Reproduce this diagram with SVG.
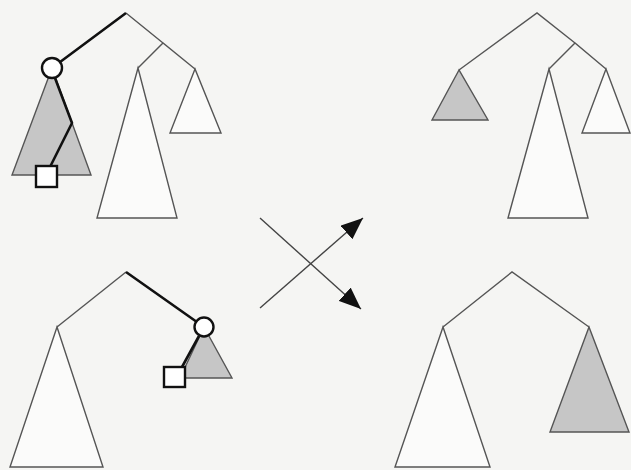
<svg xmlns="http://www.w3.org/2000/svg" width="631" height="470" viewBox="0 0 631 470">
<defs>
<style>
.bg{fill:#f5f5f3}
.tri{fill:#fbfbfa;stroke:#555;stroke-width:1.4;stroke-linejoin:miter}
.sh{fill:#c6c6c6;stroke:#555;stroke-width:1.4}
.e{fill:none;stroke:#555;stroke-width:1.4}
.th{fill:none;stroke:#111;stroke-width:2.6;stroke-linejoin:round}
.nd{fill:#fff;stroke:#111;stroke-width:2.4}
.ar{fill:none;stroke:#444;stroke-width:1.4}
</style>
<marker id="ah" viewBox="0 0 10 10" refX="10" refY="5" markerWidth="22" markerHeight="18" markerUnits="userSpaceOnUse" orient="auto" preserveAspectRatio="none">
<path d="M0,0 L10,5 L0,10 z" fill="#111"/>
</marker>
</defs>
<rect class="bg" x="0" y="0" width="631" height="470"/>

<!-- Top-left tree -->
<g id="tl-shaded"><polygon class="sh" points="52,68 12,175 91,175"/></g>
<g id="tl-big"><polygon class="tri" points="138,68 97,218 177,218"/></g>
<g id="tl-small"><polygon class="tri" points="195,69 170,133 221,133"/></g>
<!-- Top-right tree -->
<g id="tr-shaded"><polygon class="sh" points="459,70 432,120 488,120"/></g>
<g id="tr-big"><polygon class="tri" points="549,69 508,218 588,218"/></g>
<g id="tr-small"><polygon class="tri" points="606,69 582,133 630,133"/></g>
<!-- Bottom-left tree -->
<g id="bl-big"><polygon class="tri" points="57,327 10,467 103,467"/></g>
<g id="bl-shaded"><polygon class="sh" points="204,327 180,378 232,378"/></g>
<!-- Bottom-right tree -->
<g id="br-big"><polygon class="tri" points="443,327 395,467 490,467"/></g>
<g id="br-shaded"><polygon class="sh" points="589,327 550,432 629,432"/></g>

<g id="connectors">
<!-- top-left -->
<path class="e" d="M126,13 L163,43 M138,68 L163,43 L195,69"/>
<path class="th" d="M126,13 L52,68 M55,78 L72,123 L50,167"/>
<!-- top-right -->
<path class="e" d="M459,70 L537,13 L575,43 M549,69 L575,43 L606,69"/>
<!-- bottom-left -->
<path class="e" d="M57,327 L126,272"/>
<path class="th" d="M126,272 L204,327 M199,336 L182,367"/>
<!-- bottom-right -->
<path class="e" d="M443,327 L512,272 L589,327"/>
<!-- cross arrows -->
<line class="ar" x1="260" y1="218" x2="361" y2="309" marker-end="url(#ah)"/>
<line class="ar" x1="260" y1="308" x2="363" y2="218" marker-end="url(#ah)"/>
</g>

<g id="tl-circle"><circle class="nd" cx="52" cy="68" r="10"/></g>
<g id="tl-square"><rect class="nd" x="36" y="166" width="21" height="21"/></g>
<g id="bl-circle"><circle class="nd" cx="204" cy="327" r="9.5"/></g>
<g id="bl-square"><rect class="nd" x="164" y="367" width="21" height="20"/></g>
</svg>
